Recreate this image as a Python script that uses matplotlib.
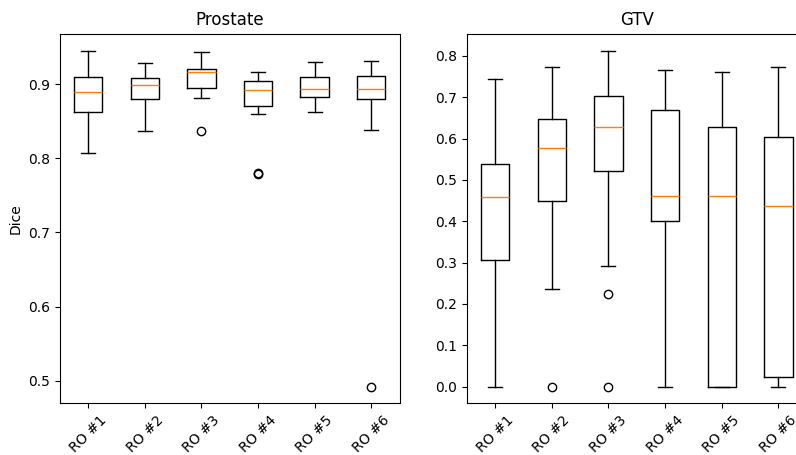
import matplotlib
matplotlib.use("Agg")
import matplotlib.pyplot as plt

labels = ["RO #1", "RO #2", "RO #3", "RO #4", "RO #5", "RO #6"]

# Prostate statistics
pro_whislo = [0.807, 0.837, 0.882, 0.860, 0.863, 0.838]
pro_q1 = [0.862, 0.8795, 0.895, 0.8706, 0.883, 0.8795]
pro_med = [0.890, 0.899, 0.916, 0.8917, 0.8935, 0.894]
pro_q3 = [0.910, 0.908, 0.9213, 0.9038, 0.9105, 0.9115]
pro_whishi = [0.9456, 0.929, 0.9434, 0.916, 0.930, 0.9313]
pro_fliers = [[], [], [0.837], [0.779, 0.7805], [], [0.492]]

# GTV statistics
gtv_whislo = [0.0, 0.237, 0.2913, 0.0, 0.0, 0.0]
gtv_q1 = [0.307, 0.450, 0.521, 0.400, 0.0, 0.0218]
gtv_med = [0.458, 0.576, 0.629, 0.462, 0.462, 0.437]
gtv_q3 = [0.538, 0.647, 0.7034, 0.6695, 0.6276, 0.6034]
gtv_whishi = [0.7437, 0.7735, 0.813, 0.767, 0.762, 0.7735]
gtv_fliers = [[], [0.0], [0.225, 0.0], [], [], []]


def make_stats(lo, q1, med, q3, hi, fl):
    return [dict(whislo=a, q1=b, med=c, q3=d, whishi=e, fliers=f, label=l)
            for a, b, c, d, e, f, l in zip(lo, q1, med, q3, hi, fl, labels)]


fig = plt.figure(figsize=(7.96, 4.55), dpi=100)
W, H = 796.0, 455.0
bottom = (H - 403.3) / H
height = (403.3 - 33.7) / H
ax1 = fig.add_axes([60 / W, bottom, 339.5 / W, height])
ax2 = fig.add_axes([466.7 / W, bottom, 340 / W, height])

ax1.bxp(make_stats(pro_whislo, pro_q1, pro_med, pro_q3, pro_whishi, pro_fliers))
ax2.bxp(make_stats(gtv_whislo, gtv_q1, gtv_med, gtv_q3, gtv_whishi, gtv_fliers))

ax1.set_title("Prostate")
ax2.set_title("GTV")
ax1.set_ylabel("Dice")
for ax in (ax1, ax2):
    ax.tick_params(axis="x", labelrotation=45)

fig.savefig("out.png", dpi=100)
